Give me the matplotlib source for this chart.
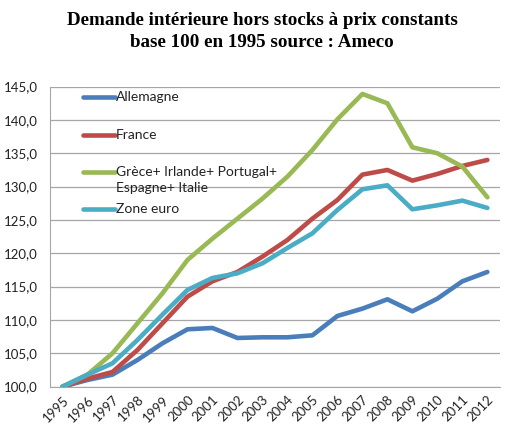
import matplotlib
matplotlib.use("Agg")
import matplotlib.pyplot as plt
from matplotlib.ticker import FuncFormatter

years = [str(y) for y in range(1995, 2013)]

allemagne = [100.0, 101.0, 101.8, 104.0, 106.5, 108.6, 108.8, 107.3, 107.4,
             107.4, 107.7, 110.6, 111.7, 113.1, 111.3, 113.2, 115.8, 117.2]
france = [100.0, 101.2, 102.2, 105.5, 109.5, 113.5, 115.8, 117.2, 119.5,
          122.0, 125.2, 128.0, 131.8, 132.5, 130.9, 131.9, 133.1, 134.0]
periph = [100.0, 101.8, 105.0, 109.5, 114.0, 119.0, 122.2, 125.2, 128.2,
          131.5, 135.5, 140.1, 143.9, 142.5, 135.9, 135.0, 133.0, 128.4]
zone_euro = [100.0, 101.8, 103.5, 107.0, 110.8, 114.5, 116.3, 117.0, 118.5,
             120.8, 123.0, 126.5, 129.6, 130.2, 126.6, 127.2, 127.9, 126.8]

series = [
    ("Allemagne", allemagne, "#4a7ebb"),
    ("France", france, "#be4b48"),
    ("Grèce+ Irlande+ Portugal+\nEspagne+ Italie", periph, "#98b954"),
    ("Zone euro", zone_euro, "#4bacc6"),
]

plt.rcParams["font.family"] = ["Lato", "DejaVu Sans"]

fig = plt.figure(figsize=(5.18, 4.32), dpi=100)
ax = fig.add_axes([0.0965, 0.105, 0.8685, 0.6945])

x = range(len(years))
for label, vals, color in series:
    ax.plot(x, vals, color=color, linewidth=3.3,
            solid_capstyle="round", solid_joinstyle="round")

ax.set_xlim(-0.5, len(years) - 0.5)
ax.set_ylim(100, 145)
ax.set_yticks(range(100, 146, 5))
ax.yaxis.set_major_formatter(FuncFormatter(lambda v, _: f"{v:.1f}".replace(".", ",")))
ax.set_xticks(list(x))
ax.set_xticklabels(years, rotation=45, ha="right", rotation_mode="anchor")
ax.tick_params(axis="both", length=0, labelsize=9.5, colors="#222222")
ax.tick_params(axis="x", pad=5)
ax.tick_params(axis="y", pad=9)

ax.grid(axis="y", color="#a6a6a6", linewidth=0.9)
ax.set_axisbelow(True)
for side in ("top", "right"):
    ax.spines[side].set_visible(False)
ax.spines["left"].set_color("#a6a6a6")
ax.spines["bottom"].set_color("#a6a6a6")

# Excel-style legend: handle aligned with the first line of each label
legend_y = [0.966, 0.839, 0.716, 0.592]
for (label, _, color), ly in zip(series, legend_y):
    ax.plot([0.073, 0.144], [ly, ly], transform=ax.transAxes, color=color,
            linewidth=3.3, solid_capstyle="round")
    ax.text(0.147, ly + 0.02, label, transform=ax.transAxes, ha="left",
            va="top", fontsize=10, color="#222222", linespacing=1.4)

fig.text(0.506, 1 - 12 / 432, "Demande intérieure hors stocks à prix constants\n"
         "base 100 en 1995 source : Ameco",
         ha="center", va="top", fontsize=13.7, fontweight="bold",
         family="Liberation Serif", linespacing=1.35)

fig.savefig("out.png", dpi=100)
